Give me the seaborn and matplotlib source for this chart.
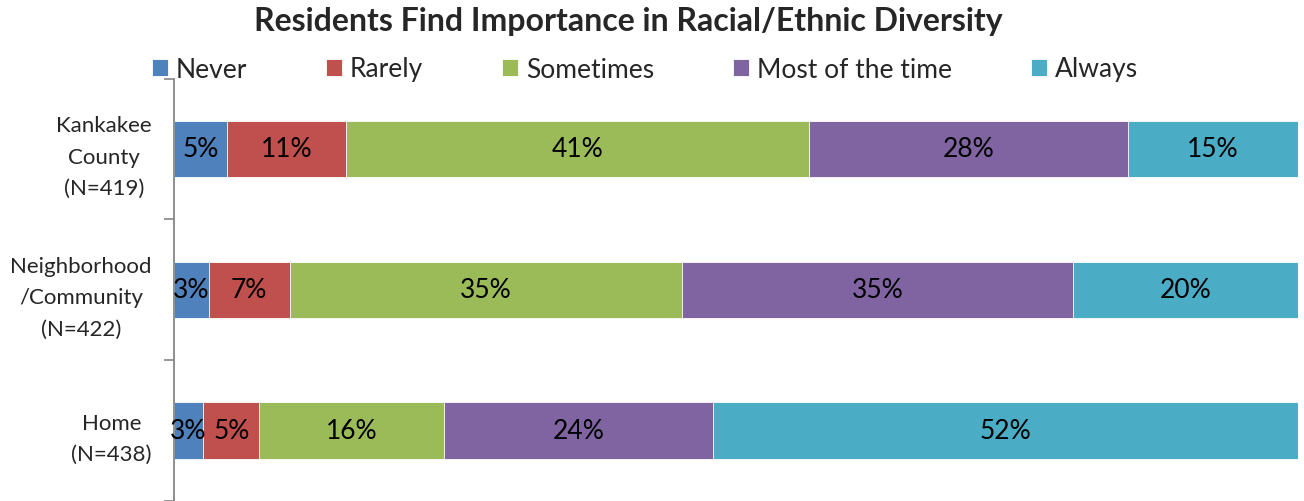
import numpy as np
import pandas as pd
import matplotlib
matplotlib.use('Agg')
import matplotlib.pyplot as plt
import seaborn as sns

# Data (segment widths in %, labels are the rounded values)
groups = ['Kankakee\nCounty\n(N=419)', 'Neighborhood\n/Community\n(N=422)', 'Home\n(N=438)']
responses = ['Never', 'Rarely', 'Sometimes', 'Most of the time', 'Always']
never = [4.7, 3.1, 2.6]
rarely = [10.6, 7.2, 5.0]
sometimes = [41.2, 34.9, 16.4]
most = [28.4, 34.8, 24.0]
always = [15.1, 20.0, 52.0]
colors = ['#4F81BD', '#C0504D', '#9BBB59', '#8064A2', '#4BACC6']

sns.set_style('white')
plt.rcParams['font.family'] = ['Lato', 'DejaVu Sans']

df = pd.DataFrame({'group': groups, 'Never': never, 'Rarely': rarely,
                   'Sometimes': sometimes, 'Most of the time': most, 'Always': always})
cum = df[responses].cumsum(axis=1)

fig = plt.figure(figsize=(13.04, 5.02), dpi=100)
ax = fig.add_axes([0.1334, 0.0, 0.862, 0.8416])

# draw cumulative bars from the back so each segment shows
for resp, col in zip(responses[::-1], colors[::-1]):
    sns.barplot(x=cum[resp], y=df['group'], color=col, orient='h', width=0.4,
                saturation=1, edgecolor='white', linewidth=0.6, ax=ax, label=resp)

for i in range(len(df)):
    for resp in responses:
        v = df.loc[i, resp]
        c = cum.loc[i, resp]
        ax.text(c - v / 2, i, f'{round(v):.0f}%', ha='center', va='center',
                fontsize=19, color='black')

ax.set_xlim(0, 100)
ax.set_ylim(2.5, -0.5)
ax.set_xlabel('')
ax.set_ylabel('')
ax.set_xticks([])
ax.set_yticks([0, 1, 2])
ax.set_yticklabels(groups, fontsize=16, multialignment='center', linespacing=1.7)
ax.tick_params(axis='y', which='major', length=0, pad=16)
ax.set_yticks([-0.5, 0.5, 1.5, 2.5], minor=True)
ax.tick_params(axis='y', which='minor', left=True, length=7, color='#868686', width=1.2)
for s in ['top', 'right', 'bottom']:
    ax.spines[s].set_visible(False)
ax.spines['left'].set_color('#868686')
ax.spines['left'].set_linewidth(1.3)

handles, labels = ax.get_legend_handles_labels()
order = [labels.index(r) for r in responses]
ax.legend([handles[k] for k in order], responses, loc='center', ncol=5,
          bbox_to_anchor=(645 / 1304, 1 - 70 / 502), bbox_transform=fig.transFigure,
          frameon=False, fontsize=19, handlelength=0.6, handleheight=0.6,
          handletextpad=0.3, columnspacing=3.0)

fig.suptitle('Residents Find Importance in Racial/Ethnic Diversity', x=628 / 1304,
             y=1 - 22 / 502, va='center', fontsize=23, fontweight='bold')

fig.savefig('out.png', dpi=100)
